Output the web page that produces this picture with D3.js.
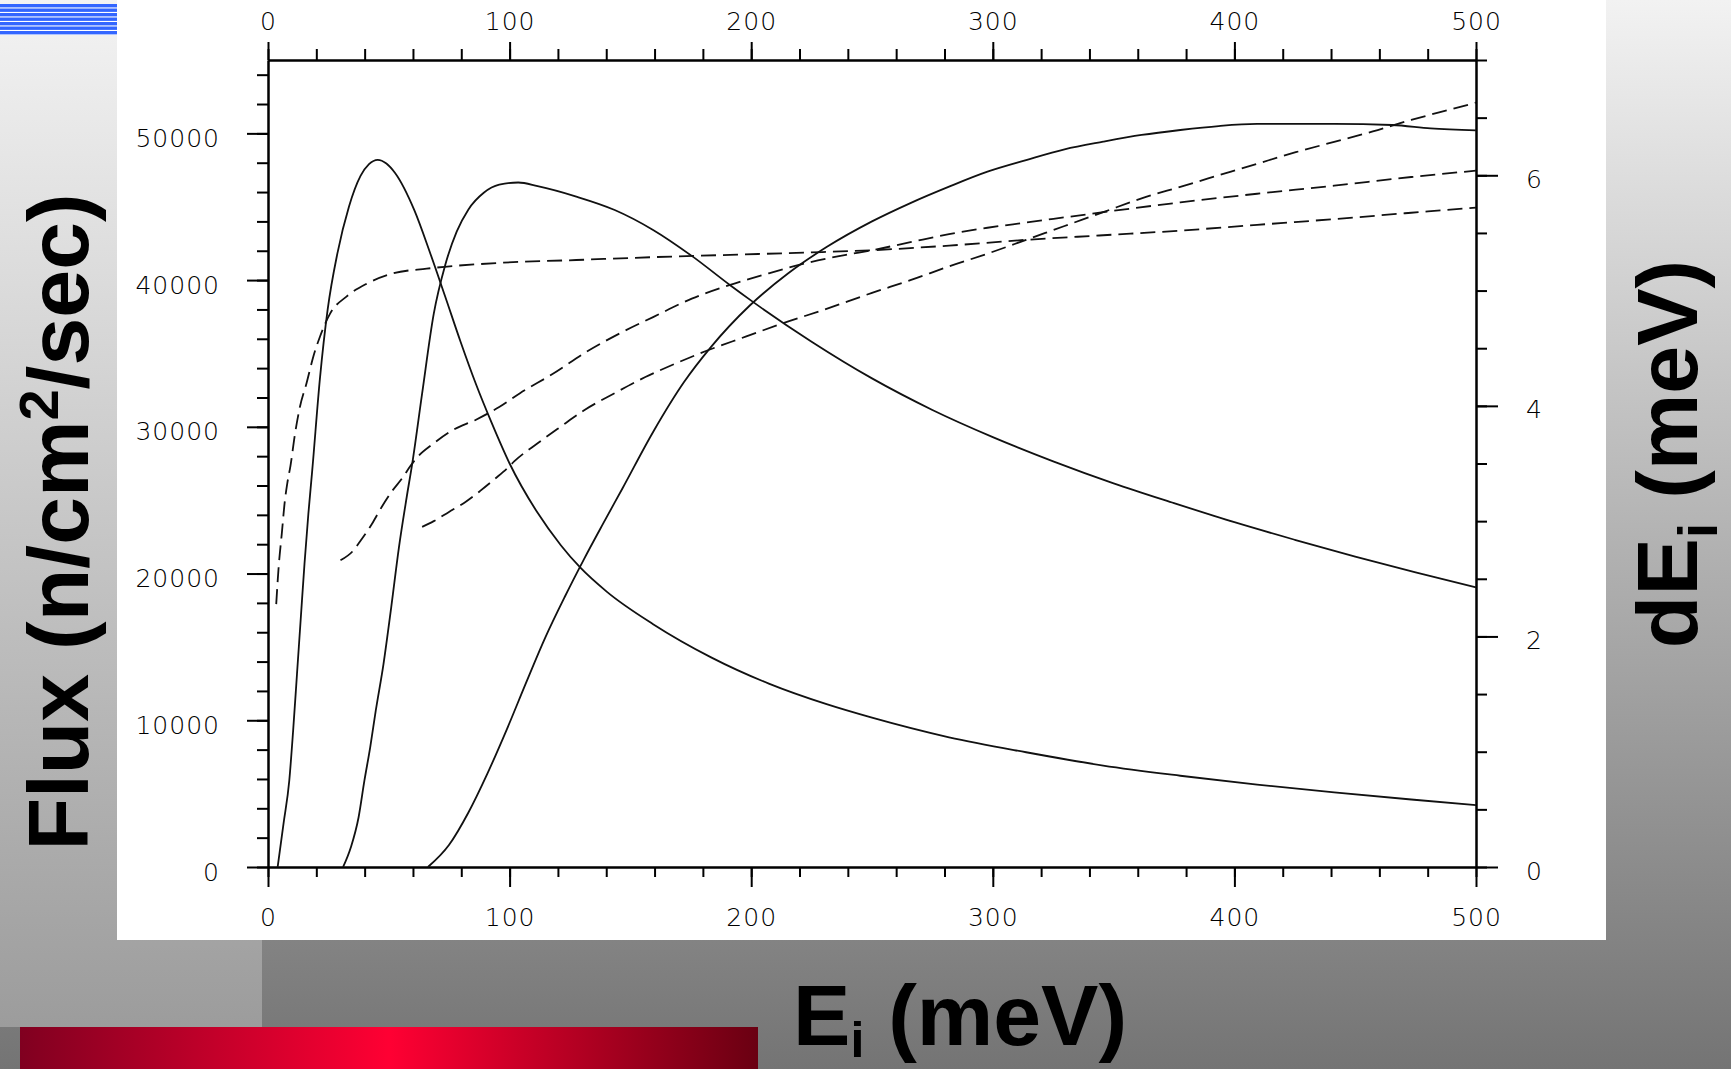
<!DOCTYPE html>
<html>
<head>
<meta charset="utf-8">
<script src="https://cdn.jsdelivr.net/npm/d3@7"></script>
<style>
body { margin: 0; overflow: hidden; }
.axis .tick text { font-family: "DejaVu Sans", sans-serif; font-weight: 200; font-size: 25px; fill: #000; letter-spacing: 1px; }
.axis path, .axis line { stroke: #000; stroke-width: 2; }
.title { font-family: "Liberation Sans", Arial, sans-serif; font-weight: bold; fill: #000; white-space: pre; }
</style>
</head>
<body>
<svg class="chart"></svg>
<script>
var width = 1731;
var height = 1069;

// tick labels
var energyTicks = [0, 100, 200, 300, 400, 500];
var fluxTicks = [0, 10000, 20000, 30000, 40000, 50000];
var deTicks = [0, 2, 4, 6];

// flux curves, [Ei (meV), flux (n/cm2/sec)]
var flux1 = [[4.0, 0], [6.4, 2930], [8.8, 5880], [10.4, 9290], [12.0, 13150], [13.6, 17040], [15.1, 20650],
    [16.7, 24060], [18.3, 27010], [21.5, 33300], [24.7, 38000], [28.7, 41800], [33.5, 45000], [38.3, 47100],
    [41.8, 47900], [45.4, 48200], [49.0, 47950], [52.6, 47300], [60.6, 44750], [67.0, 41900], [73.3, 38900],
    [79.7, 35800], [86.1, 32900], [92.5, 30300], [100, 27500], [111.6, 24136], [121.2, 21930], [129.1, 20430],
    [140.3, 18750], [159.4, 16550], [183.4, 14290], [207.3, 12500], [231.2, 11100], [250, 10180],
    [281.9, 8840], [313.8, 7820], [345.7, 6910], [377.6, 6220], [409.4, 5620], [441.3, 5080], [473.2, 4600],
    [500, 4220]];

var flux2 = [[31.1, 0], [34.3, 1340], [37.5, 3390], [39.9, 5880], [42.3, 8160], [44.6, 10650], [47.8, 13830],
    [51.0, 17700], [54.2, 21790], [57.4, 25200], [59.8, 27600], [63.8, 32280], [68.6, 37700], [73.3, 41000],
    [78.1, 43300], [82.9, 44800], [89.3, 45950], [95.7, 46500], [103.6, 46650], [111.6, 46400], [127.6, 45690],
    [143.5, 44780], [159.4, 43420], [175.4, 41650], [191.3, 39650], [200, 38600], [225, 35800], [250, 33300],
    [275, 31150], [300, 29300], [325, 27650], [350, 26150], [375, 24800], [400, 23500], [425, 22300],
    [450, 21150], [475, 20080], [500, 19050]];

var flux3 = [[66.2, 0], [74.9, 1500], [82.9, 3700], [90.9, 6400], [98.9, 9400], [106.8, 12550], [114.8, 15650],
    [122.8, 18400], [130.7, 20950], [138.7, 23400], [146.7, 25800], [159.4, 29650], [172.2, 33050],
    [183.4, 35450], [199.3, 38250], [215.2, 40450], [231.2, 42250], [250, 44000], [265.9, 45250],
    [281.9, 46370], [297.8, 47390], [313.8, 48180], [329.7, 48910], [345.7, 49430], [361.6, 49890],
    [377.6, 50230], [393.5, 50500], [409.4, 50640], [441.3, 50640], [465.2, 50570], [481.2, 50340],
    [500, 50200]];

// resolution curves, [Ei (meV), dEi (meV)]
var res1 = [[3.4, 2.28], [4.4, 2.60], [5.7, 2.89], [7.0, 3.18], [8.0, 3.33], [9.3, 3.48], [11.2, 3.76],
    [13.2, 3.99], [16.0, 4.20], [18.8, 4.43], [21.5, 4.60], [25.7, 4.80], [32.6, 4.95], [40.9, 5.06],
    [51.9, 5.15], [65.7, 5.19], [95.7, 5.24], [127.6, 5.265], [159.4, 5.29], [191.3, 5.31], [223.2, 5.33],
    [250, 5.35], [281.9, 5.39], [313.8, 5.44], [345.7, 5.48], [377.6, 5.52], [409.4, 5.57], [441.3, 5.62],
    [473.2, 5.675], [500, 5.72]];

var res2 = [[30.0, 2.66], [35.1, 2.74], [38.3, 2.83], [43.0, 2.975], [47.0, 3.12], [51.0, 3.25], [55.8, 3.38],
    [59.0, 3.48], [61.4, 3.545], [68.6, 3.675], [76.5, 3.79], [86.1, 3.88], [95.7, 3.99], [104.3, 4.11],
    [118.1, 4.28], [131.9, 4.47], [145.7, 4.63], [159.4, 4.77], [175.4, 4.93], [191.3, 5.05], [207.3, 5.15],
    [223.2, 5.24], [239.2, 5.31], [250, 5.35], [265.9, 5.42], [281.9, 5.49], [297.8, 5.545], [313.8, 5.59],
    [345.7, 5.68], [377.6, 5.765], [409.4, 5.84], [441.3, 5.91], [473.2, 5.985], [500, 6.04]];

var res3 = [[63.8, 2.95], [68.6, 3.00], [74.9, 3.08], [81.3, 3.16], [87.7, 3.26], [94.1, 3.37], [99.6, 3.47],
    [102.0, 3.52], [111.6, 3.675], [121.2, 3.82], [130.7, 3.96], [143.5, 4.11], [156.2, 4.25], [169.0, 4.37],
    [181.8, 4.48], [197.7, 4.60], [213.6, 4.72], [229.6, 4.83], [250, 4.98], [265.9, 5.09], [281.9, 5.21],
    [297.8, 5.32], [313.8, 5.44], [329.7, 5.56], [345.7, 5.68], [361.6, 5.80], [377.6, 5.90], [393.5, 6.00],
    [409.4, 6.10], [425.4, 6.20], [441.3, 6.29], [457.3, 6.38], [473.2, 6.48], [489.2, 6.57], [500, 6.63]];

var x = d3.scaleLinear().domain([0, 500]).range([268, 1476]);
var yFlux = d3.scaleLinear().domain([0, 55000]).range([867, 60]);
var yDE = d3.scaleLinear().domain([0, 7]).range([867, 60]);

var chart = d3.select(".chart")
    .attr("width", width)
    .attr("height", height);

// slide background
var defs = chart.append("defs");

function vGrad(id, top, bottom) {
    var g = defs.append("linearGradient").attr("id", id)
        .attr("x1", 0).attr("y1", 0).attr("x2", 0).attr("y2", 1);
    g.append("stop").attr("offset", 0).attr("stop-color", top);
    g.append("stop").attr("offset", 1).attr("stop-color", bottom);
}
vGrad("bgMain", "#f2f2f2", "#747474");
vGrad("bgLeft", "#f3f3f3", "#9c9c9c");

var red = defs.append("linearGradient").attr("id", "redBar");
red.append("stop").attr("offset", 0).attr("stop-color", "#800020");
red.append("stop").attr("offset", 0.5).attr("stop-color", "#ff0033");
red.append("stop").attr("offset", 1).attr("stop-color", "#6a0012");

chart.append("rect").attr("width", width).attr("height", height).attr("fill", "url(#bgMain)");
chart.append("rect").attr("width", 262).attr("height", 1027).attr("fill", "url(#bgLeft)");
chart.append("rect").attr("x", 117).attr("width", 1489).attr("height", 940).attr("fill", "#fff");
chart.append("rect").attr("x", 20).attr("y", 1027).attr("width", 738).attr("height", 42).attr("fill", "url(#redBar)");

// blue stripes in the corner
chart.append("rect").attr("y", 4).attr("width", 117).attr("height", 31).attr("fill", "#fff");
chart.selectAll("rect.stripe")
    .data(d3.range(7))
    .enter()
    .append("rect")
    .attr("class", "stripe")
    .attr("y", function(d) { return 4 + d * 4.5; })
    .attr("width", 117)
    .attr("height", 3.4)
    .attr("fill", "#3366ff");

// axes: major ticks with labels, minor ticks without
function drawAxis(axisFn, scale, majors, minors, bigLen, smallLen, transform, fixText) {
    chart.append("g")
        .attr("class", "axis")
        .attr("transform", transform)
        .call(axisFn(scale).tickValues(minors).tickSize(smallLen).tickSizeOuter(0).tickFormat(""));
    var g = chart.append("g")
        .attr("class", "axis")
        .attr("transform", transform)
        .call(axisFn(scale).tickValues(majors).tickSize(bigLen).tickSizeOuter(0).tickFormat(d3.format("d")));
    fixText(g.selectAll(".tick text").attr("dy", null));
}

drawAxis(d3.axisBottom, x, energyTicks, d3.range(0, 501, 20), 20, 10, "translate(0,867)",
    function(t) { t.attr("y", 59); });
drawAxis(d3.axisTop, x, energyTicks, d3.range(0, 501, 20), 18, 11, "translate(0,60)",
    function(t) { t.attr("y", -30); });
drawAxis(d3.axisLeft, yFlux, fluxTicks, d3.range(0, 55001, 2000), 21, 11, "translate(268,0)",
    function(t) { t.attr("x", -48).attr("y", 13); });
drawAxis(d3.axisRight, yDE, deTicks, d3.range(0, 7.01, 0.5), 22, 11, "translate(1476,0)",
    function(t) { t.attr("x", 50).attr("y", 12); });

// curves
var fluxLine = d3.line()
    .x(function(d) { return x(d[0]); })
    .y(function(d) { return yFlux(d[1]); })
    .curve(d3.curveMonotoneX);

var resLine = d3.line()
    .x(function(d) { return x(d[0]); })
    .y(function(d) { return yDE(d[1]); })
    .curve(d3.curveMonotoneX);

chart.selectAll("path.flux")
    .data([flux1, flux2, flux3])
    .enter()
    .append("path")
    .attr("class", "flux")
    .attr("d", fluxLine)
    .attr("fill", "none")
    .attr("stroke", "#111")
    .attr("stroke-width", 1.8);

chart.selectAll("path.res")
    .data([res1, res2, res3])
    .enter()
    .append("path")
    .attr("class", "res")
    .attr("d", resLine)
    .attr("fill", "none")
    .attr("stroke", "#111")
    .attr("stroke-width", 1.8)
    .attr("stroke-dasharray", "15,7");

// axis titles
var t1 = chart.append("text")
    .attr("class", "title")
    .attr("text-anchor", "middle")
    .attr("transform", "translate(88,522) rotate(-90)")
    .style("font-size", "86px");
t1.append("tspan").text("Flux (n/cm");
t1.append("tspan").text("2").style("font-size", "56px").attr("dy", -30);
t1.append("tspan").text("/sec)").attr("dy", 30);

var t2 = chart.append("text")
    .attr("class", "title")
    .attr("text-anchor", "middle")
    .attr("transform", "translate(1697,454) rotate(-90)")
    .style("font-size", "86px");
t2.append("tspan").text("dE");
t2.append("tspan").text("i").style("font-size", "56px").attr("dy", 20);
t2.append("tspan").text(" (meV)").attr("dy", -20);

var t3 = chart.append("text")
    .attr("class", "title")
    .attr("x", 793)
    .attr("y", 1045)
    .style("font-size", "86px");
t3.append("tspan").text("E");
t3.append("tspan").text("i").style("font-size", "50px").attr("dy", 12);
t3.append("tspan").text(" (meV)").attr("dy", -12);
</script>
</body>
</html>
